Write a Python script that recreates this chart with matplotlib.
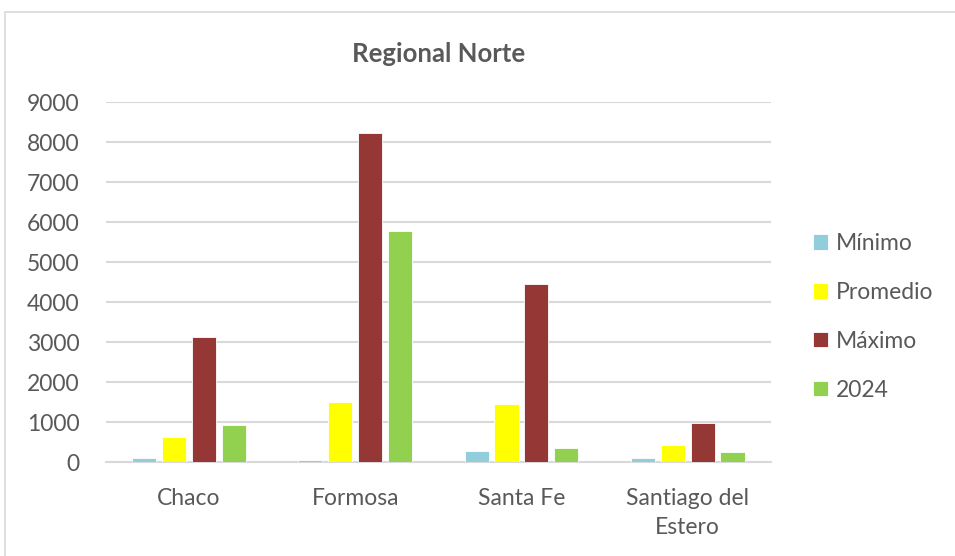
import numpy as np
import matplotlib.pyplot as plt
from matplotlib.patches import Rectangle

categories = ['Chaco', 'Formosa', 'Santa Fe', 'Santiago del\nEstero']
series_names = ['Mínimo', 'Promedio', 'Máximo', '2024']
minimo = [90, 50, 275, 95]
promedio = [635, 1495, 1455, 430]
maximo = [3120, 8220, 4450, 975]
anio_2024 = [915, 5780, 360, 250]
y_ticks = [0, 1000, 2000, 3000, 4000, 5000, 6000, 7000, 8000, 9000]

colors = ['#92CDDC', '#FFFF00', '#953735', '#92D050']
text_color = '#595959'
grid_color = '#D9D9D9'

plt.rcParams['font.family'] = ['Lato', 'DejaVu Sans']

fig = plt.figure(figsize=(9.55, 5.56), dpi=100)
ax = fig.add_axes([0.111, 0.169, 0.696, 0.6475])

x = np.arange(len(categories))
step = 0.18
width = 0.145
for i, (vals, name) in enumerate(zip([minimo, promedio, maximo, anio_2024], series_names)):
    ax.bar(x + (i - 1.5) * step, vals, width, color=colors[i], label=name,
           edgecolor='white', linewidth=0.6, zorder=3)

ax.set_xlim(-0.5, len(categories) - 0.5)
ax.set_ylim(0, 9000)
ax.set_yticks(y_ticks)
ax.set_xticks(x)
ax.set_xticklabels(categories, fontsize=16.5, color=text_color, linespacing=1.45)
ax.tick_params(axis='y', labelsize=16.5, labelcolor=text_color, length=0, pad=19)
ax.tick_params(axis='x', length=0, pad=19)
ax.grid(axis='y', color=grid_color, linewidth=1.5, zorder=0)
for s in ['top', 'right', 'left']:
    ax.spines[s].set_visible(False)
ax.spines['bottom'].set_color(grid_color)
ax.spines['bottom'].set_linewidth(1.5)

ax.set_title('Regional Norte', fontsize=18.5, fontweight='bold', color=text_color, pad=29)

leg = fig.legend(loc='center left', bbox_to_anchor=(0.83, 0.43), frameon=False,
                 fontsize=16.5, labelcolor=text_color, handlelength=0.65, handleheight=0.65,
                 handletextpad=0.35, labelspacing=1.22)

fig.patches.append(Rectangle((5 / 955, -0.01), 1.0, 1 - 12 / 556 + 0.01, transform=fig.transFigure,
                             fill=False, edgecolor='#D9D9D9', linewidth=1.2))

fig.savefig('out.png', dpi=100)
